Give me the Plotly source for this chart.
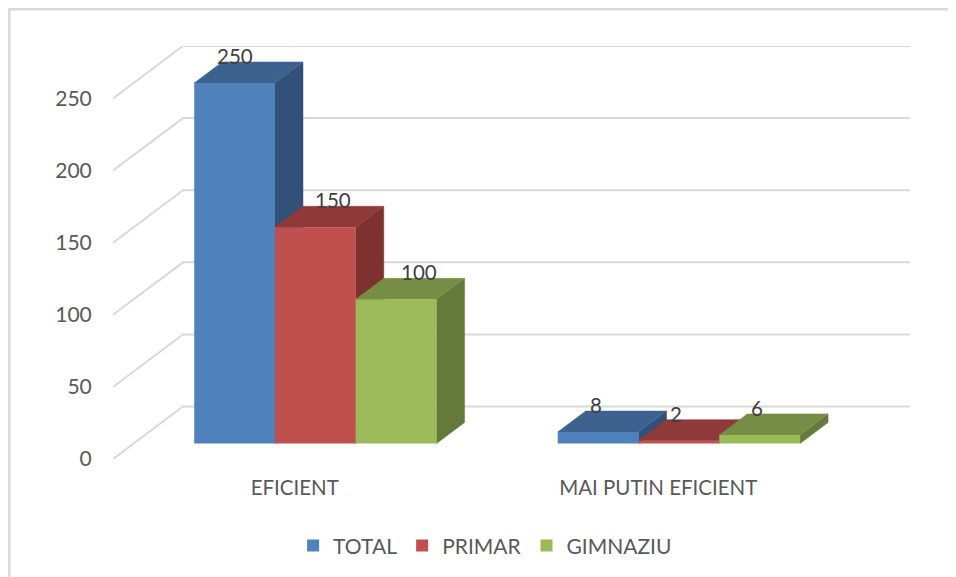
import plotly.graph_objects as go

categories = ["EFICIENT", "MAI PUTIN EFICIENT"]
series_names = ["TOTAL", "PRIMAR", "GIMNAZIU"]
total = [250, 8]
primar = [150, 2]
gimnaziu = [100, 6]
tick_values = [0, 50, 100, 150, 200, 250]

series_values = [total, primar, gimnaziu]
front_colors = ["#4F81BD", "#C0504D", "#9BBB59"]
top_colors = ["#3D6290", "#8F3A38", "#768D45"]
side_colors = ["#335078", "#7E3230", "#657A3A"]

# pseudo-3D projection, expressed in axis units
# the page has an 8 px body margin, so the figure is 8 px smaller than the window
W, H = 948, 569
ML, MR, MT, MB = 104.7, 46, 37.7, 117.8
px_x = (W - ML - MR - 70) / 2      # pixels per category
px_y = 1.444                        # pixels per value
DX = 70 / px_x                      # depth shift along x
DY = 52.5 / px_y                    # depth shift along y
D0, D1 = 0.295, 0.695               # bar depth span
BAR_W = 1 / 4.5
x_range = [-0.5, 1.5 + DX]
y_range = [0, 250 + DY]


def proj(x, v, d):
    return x + d * DX, v + d * DY


fig = go.Figure()

# walls
wx, wy = [], []
for t in tick_values:
    a = proj(-0.5, t, 0)
    b = proj(-0.5, t, 1)
    c = proj(1.5, t, 1)
    wx += [a[0], b[0], c[0], None]
    wy += [a[1], b[1], c[1], None]
fig.add_trace(go.Scatter(x=wx, y=wy, mode="lines", line=dict(color="#D9D9D9", width=2),
                         showlegend=False, hoverinfo="skip", cliponaxis=False))


def poly(points, color):
    xs = [p[0] for p in points] + [points[0][0]]
    ys = [p[1] for p in points] + [points[0][1]]
    fig.add_trace(go.Scatter(x=xs, y=ys, mode="lines", fill="toself", fillcolor=color,
                             line=dict(color=color, width=0.5), showlegend=False, hoverinfo="skip"))


# side and top faces, painted left to right
for c in range(len(categories)):
    for s, vals in enumerate(series_values):
        v = vals[c]
        left = c + (s - 1.5) * BAR_W
        right = left + BAR_W
        poly([proj(right, 0, D0), proj(right, 0, D1), proj(right, v, D1), proj(right, v, D0)], side_colors[s])
        poly([proj(left, v, D0), proj(left, v, D1), proj(right, v, D1), proj(right, v, D0)], top_colors[s])

# front faces on an overlay, always in front of every other face
for s, vals in enumerate(series_values):
    fig.add_trace(go.Bar(
        x=[c + (s - 1) * BAR_W + D0 * DX for c in range(len(categories))],
        y=vals, base=[D0 * DY] * len(vals), width=BAR_W, name=series_names[s],
        marker=dict(color=front_colors[s], line=dict(width=0)),
        xaxis="x2", yaxis="y2",
    ))

# data labels: pixel nudges of the hand-placed labels
nudges = [[0, 18, 23], [-2, -3, -3]]
for c in range(len(categories)):
    for s, vals in enumerate(series_values):
        x, y = proj(c + (s - 1) * BAR_W, vals[c], D0)
        fig.add_annotation(x=x, y=y, xref="x", yref="y", text=str(vals[c]), showarrow=False,
                           xshift=nudges[c][s], yshift=27, yanchor="middle",
                           font=dict(family="Lato", size=20.5, color="#404040"))

# chart frame
PW, PH = W - ML - MR, H - MT - MB
fl = (1 - ML) / PW
ft = 1 + (MT - 1) / PH
fig.add_shape(type="path", xref="paper", yref="paper",
              path=f"M {fl} {-MB/PH} L {fl} {ft} L {1 + MR/PW} {ft}",
              line=dict(color="#D9D9D9", width=2.5))

fig.update_layout(
    width=W, height=H, margin=dict(l=ML, r=MR, t=MT, b=MB, pad=0, autoexpand=False),
    paper_bgcolor="white", plot_bgcolor="white", barmode="overlay", showlegend=True,
    font=dict(family="Lato", size=20, color="#595959"),
    xaxis=dict(range=x_range, tickvals=[0, 1], ticktext=categories, showgrid=False, zeroline=False,
               showline=False, ticks="outside", ticklen=10.5, tickcolor="rgba(0,0,0,0)",
               tickfont=dict(size=20.5, color="#595959")),
    yaxis=dict(range=y_range, tickvals=tick_values, showgrid=False, zeroline=False, showline=False,
               ticks="outside", ticklen=16, tickcolor="rgba(0,0,0,0)",
               tickfont=dict(size=21, color="#595959")),
    xaxis2=dict(range=x_range, overlaying="x", visible=False),
    yaxis2=dict(range=y_range, overlaying="y", visible=False),
    legend=dict(orientation="h", x=0.226, xanchor="left", xref="paper", y=-0.21, yanchor="middle",
                font=dict(size=21, color="#595959"), bgcolor="rgba(0,0,0,0)", traceorder="normal"),
)

fig.write_html("out.html")
